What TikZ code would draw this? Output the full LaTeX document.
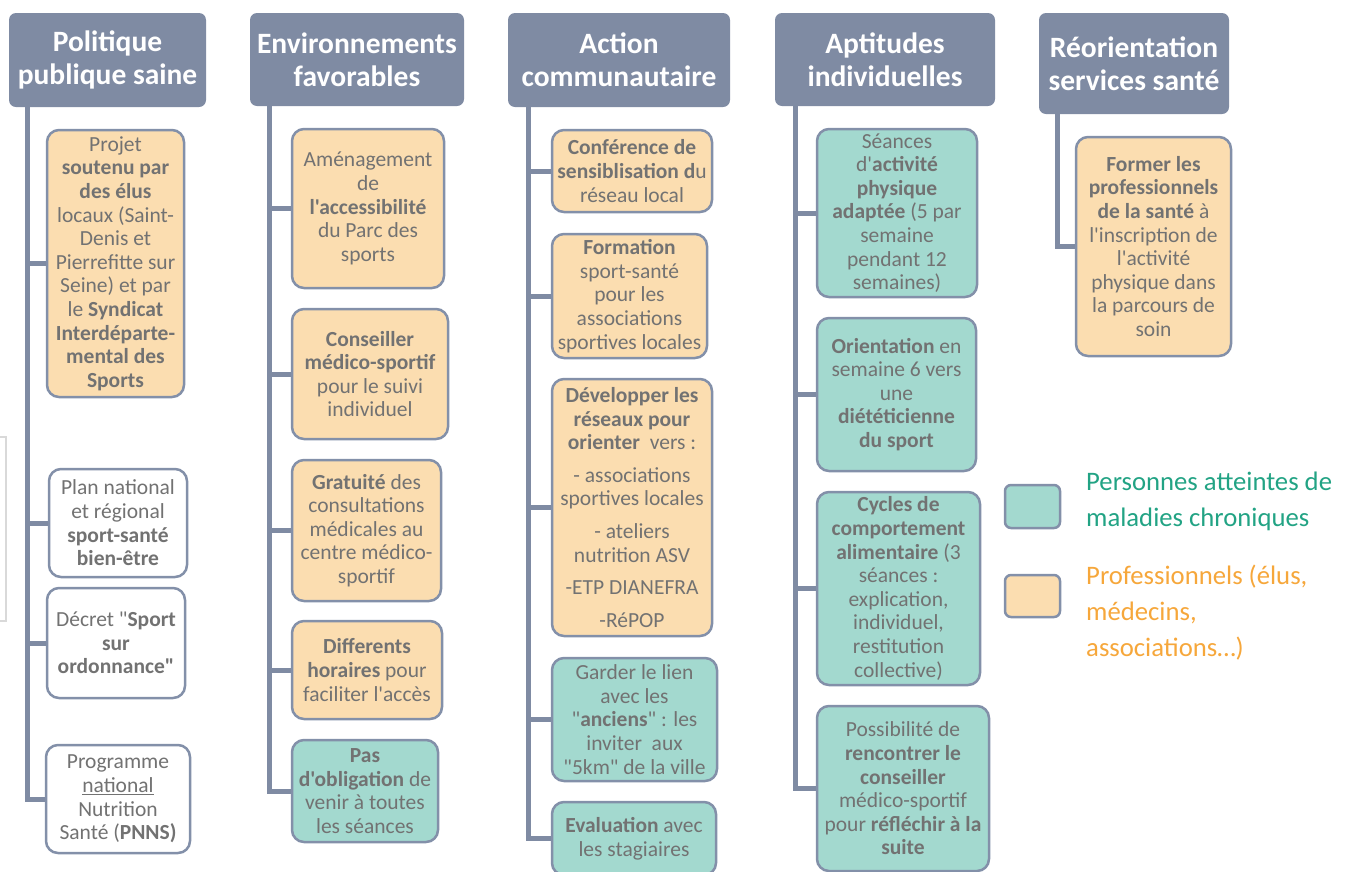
\documentclass[tikz,border=0pt]{standalone}
\usepackage{fontspec}
\setmainfont{Carlito}[Ligatures=TeXOff]
\usetikzlibrary{backgrounds}
\definecolor{hdrc}{HTML}{7F8BA3}
\definecolor{brd}{HTML}{8390A9}
\definecolor{orf}{HTML}{FBDDB0}
\definecolor{tlf}{HTML}{A3D9CF}
\definecolor{txt}{HTML}{727272}
\definecolor{lgt}{HTML}{22A384}
\definecolor{lgo}{HTML}{F6A73B}
\definecolor{artc}{HTML}{D9D9D9}
\tikzset{
  hdr/.style={rounded corners=7pt, fill=hdrc, draw=none, text=white,
    font=\fontsize{29.5}{33}\selectfont\bfseries, align=center, inner sep=0pt},
  bx/.style={rounded corners=12pt, draw=brd, line width=2.5pt, text=txt,
    font=\fontsize{21.5}{23.6}\selectfont, align=center, inner sep=0pt},
  orb/.style={bx, fill=orf},
  tlb/.style={bx, fill=tlf},
  whb/.style={bx, fill=white},
  conn/.style={draw=hdrc, line width=5pt},
  lgbox/.style={rounded corners=6pt, draw=brd, line width=2.5pt, inner sep=0pt},
  lgtext/.style={anchor=west, font=\fontsize{26.7}{36}\selectfont, align=left, inner sep=0pt},
}
\begin{document}
\begin{tikzpicture}[x=1pt,y=-1pt]
\useasboundingbox (0,0) rectangle (1350,871);
\clip (0,0) rectangle (1350,871);
% artifact frame at left
\draw[artc, line width=1.5pt] (-10,437) rectangle (6,621);

% ---------- Column 1
\node[hdr, minimum width=197pt, minimum height=94pt] (h1) at (107.5,60) {Politique\\publique saine};
\node[orb, minimum width=137pt, minimum height=267pt] (c1b1) at (115.5,263.5) {Projet\\ \textbf{soutenu par}\\ \textbf{des élus}\\ locaux (Saint-\\ Denis et\\ Pierrefitte sur\\ Seine) et par\\ le \textbf{Syndicat}\\ \textbf{Interdéparte-}\\ \textbf{mental des}\\ \textbf{Sports}};
\node[whb, minimum width=138pt, minimum height=108pt] (c1b2) at (118,523) {Plan national\\ et régional\\ \textbf{sport-santé}\\ \textbf{bien-être}};
\node[whb, minimum width=138pt, minimum height=110pt] (c1b3) at (116,643) {Décret "\textbf{Sport}\\ \textbf{sur}\\ \textbf{ordonnance"}};
\node[whb, minimum width=144pt, minimum height=108pt] (c1b4) at (118,799) {Programme\\ \underline{national}\\ Nutrition\\ Santé (\textbf{PNNS)}};
\coordinate (s1) at (27,107);

% ---------- Column 2
\node[hdr, minimum width=214pt, minimum height=93pt] (h2) at (357,59.5) {Environnements\\favorables};
\node[orb, minimum width=152pt, minimum height=159pt] (c2b1) at (368,208.5) {Aménagement\\ de\\ \textbf{l'accessibilité}\\ du Parc des\\ sports};
\node[orb, minimum width=156pt, minimum height=130pt] (c2b2) at (370,374) {\textbf{Conseiller}\\ \textbf{médico-sportif}\\ pour le suivi\\ individuel};
\node[orb, minimum width=149pt, minimum height=141pt] (c2b3) at (366.5,530.5) {\textbf{Gratuité} des\\ consultations\\ médicales au\\ centre médico-\\ sportif};
\node[orb, minimum width=150pt, minimum height=98pt] (c2b4) at (367,670) {\textbf{Differents}\\ \textbf{horaires} pour\\ faciliter l'accès};
\node[tlb, minimum width=146pt, minimum height=102pt] (c2b5) at (365,791) {\textbf{Pas}\\ \textbf{d'obligation} de\\ venir à toutes\\ les séances};
\coordinate (s2) at (269,106);

% ---------- Column 3
\node[hdr, minimum width=222pt, minimum height=94pt] (h3) at (619,60) {Action\\communautaire};
\node[orb, minimum width=160pt, minimum height=82pt] (c3b1) at (632,171) {\textbf{Conférence de}\\ \textbf{sensiblisation d}u\\ réseau local};
\node[orb, minimum width=155pt, minimum height=124pt] (c3b2) at (629.5,296) {\textbf{Formation}\\ sport-santé\\ pour les\\ associations\\ sportives locales};
\node[orb, minimum width=160pt, minimum height=257pt] (c3b3) at (632,507.5) {\textbf{Développer les}\\ \textbf{réseaux pour}\\ \textbf{orienter}\ \ vers :\\[9pt] - associations\\ sportives locales\\[9pt] - ateliers\\ nutrition ASV\\[9pt] -ETP DIANEFRA\\[9pt] -RéPOP};
\node[tlb, minimum width=165pt, minimum height=123pt] (c3b4) at (634.5,719.5) {Garder le lien\\ avec les\\ "\textbf{anciens}" : les\\ inviter\ \ aux\\ "5km" de la ville};
\node[tlb, minimum width=164pt, minimum height=73pt] (c3b5) at (634,838.5) {\textbf{Evaluation} avec\\ les stagiaires};
\coordinate (s3) at (528,107);

% ---------- Column 4
\node[hdr, minimum width=220pt, minimum height=93pt] (h4) at (885,59.5) {Aptitudes\\individuelles};
\node[tlb, minimum width=160pt, minimum height=168pt] (c4b1) at (897,213) {Séances\\ d'\textbf{activité}\\ \textbf{physique}\\ \textbf{adaptée} (5 par\\ semaine\\ pendant 12\\ semaines)};
\node[tlb, minimum width=159pt, minimum height=153pt] (c4b2) at (896.5,394.5) {\textbf{Orientation} en\\ semaine 6 vers\\ une\\ \textbf{diététicienne}\\ \textbf{du sport}};
\node[tlb, minimum width=163pt, minimum height=193pt] (c4b3) at (898.5,588.5) {\textbf{Cycles de}\\ \textbf{comportement}\\ \textbf{alimentaire} (3\\ séances :\\ explication,\\ individuel,\\ restitution\\ collective)};
\node[tlb, minimum width=172pt, minimum height=165pt] (c4b4) at (903,788.5) {Possibilité de\\ \textbf{rencontrer le}\\ \textbf{conseiller}\\ médico-sportif\\ pour \textbf{réfléchir à la}\\ \textbf{suite}};
\coordinate (s4) at (795,106);

% ---------- Column 5
\node[hdr, minimum width=190pt, minimum height=101pt] (h5) at (1134,63.5) {Réorientation\\services santé};
\node[orb, minimum width=155pt, minimum height=219pt] (c5b1) at (1153.5,246.5) {\textbf{Former les}\\ \textbf{professionnels}\\ \textbf{de la santé} à\\ l'inscription de\\ l'activité\\ physique dans\\ la parcours de\\ soin};
\coordinate (s5) at (1057,114);

% ---------- Legend
\node[lgbox, fill=tlf, minimum width=55pt, minimum height=43pt] (lg1) at (1032.5,506.5) {};
\node[lgbox, fill=orf, minimum width=55pt, minimum height=42pt] (lg2) at (1032.5,596) {};
\node[lgtext, text=lgt] (lg1t) at (1086,501.5) {Personnes atteintes de\\ maladies chroniques};
\node[lgtext, text=lgo] (lg2t) at (1086,612.5) {Professionnels (élus,\\ médecins,\\ associations…)};

% ---------- Connectors
\begin{scope}[on background layer]
\draw[conn] (h1.south -| s1) |- (c1b4.west);
\foreach \b in {c1b1,c1b2,c1b3} \draw[conn] (\b.west -| s1) -- (\b.west);
\draw[conn] (h2.south -| s2) |- (c2b5.west);
\foreach \b in {c2b1,c2b2,c2b3,c2b4} \draw[conn] (\b.west -| s2) -- (\b.west);
\draw[conn] (h3.south -| s3) |- (c3b5.west);
\foreach \b in {c3b1,c3b2,c3b3,c3b4} \draw[conn] (\b.west -| s3) -- (\b.west);
\draw[conn] (h4.south -| s4) |- (c4b4.west);
\foreach \b in {c4b1,c4b2,c4b3} \draw[conn] (\b.west -| s4) -- (\b.west);
\draw[conn] (h5.south -| s5) |- (c5b1.west);
\end{scope}
\end{tikzpicture}
\end{document}
